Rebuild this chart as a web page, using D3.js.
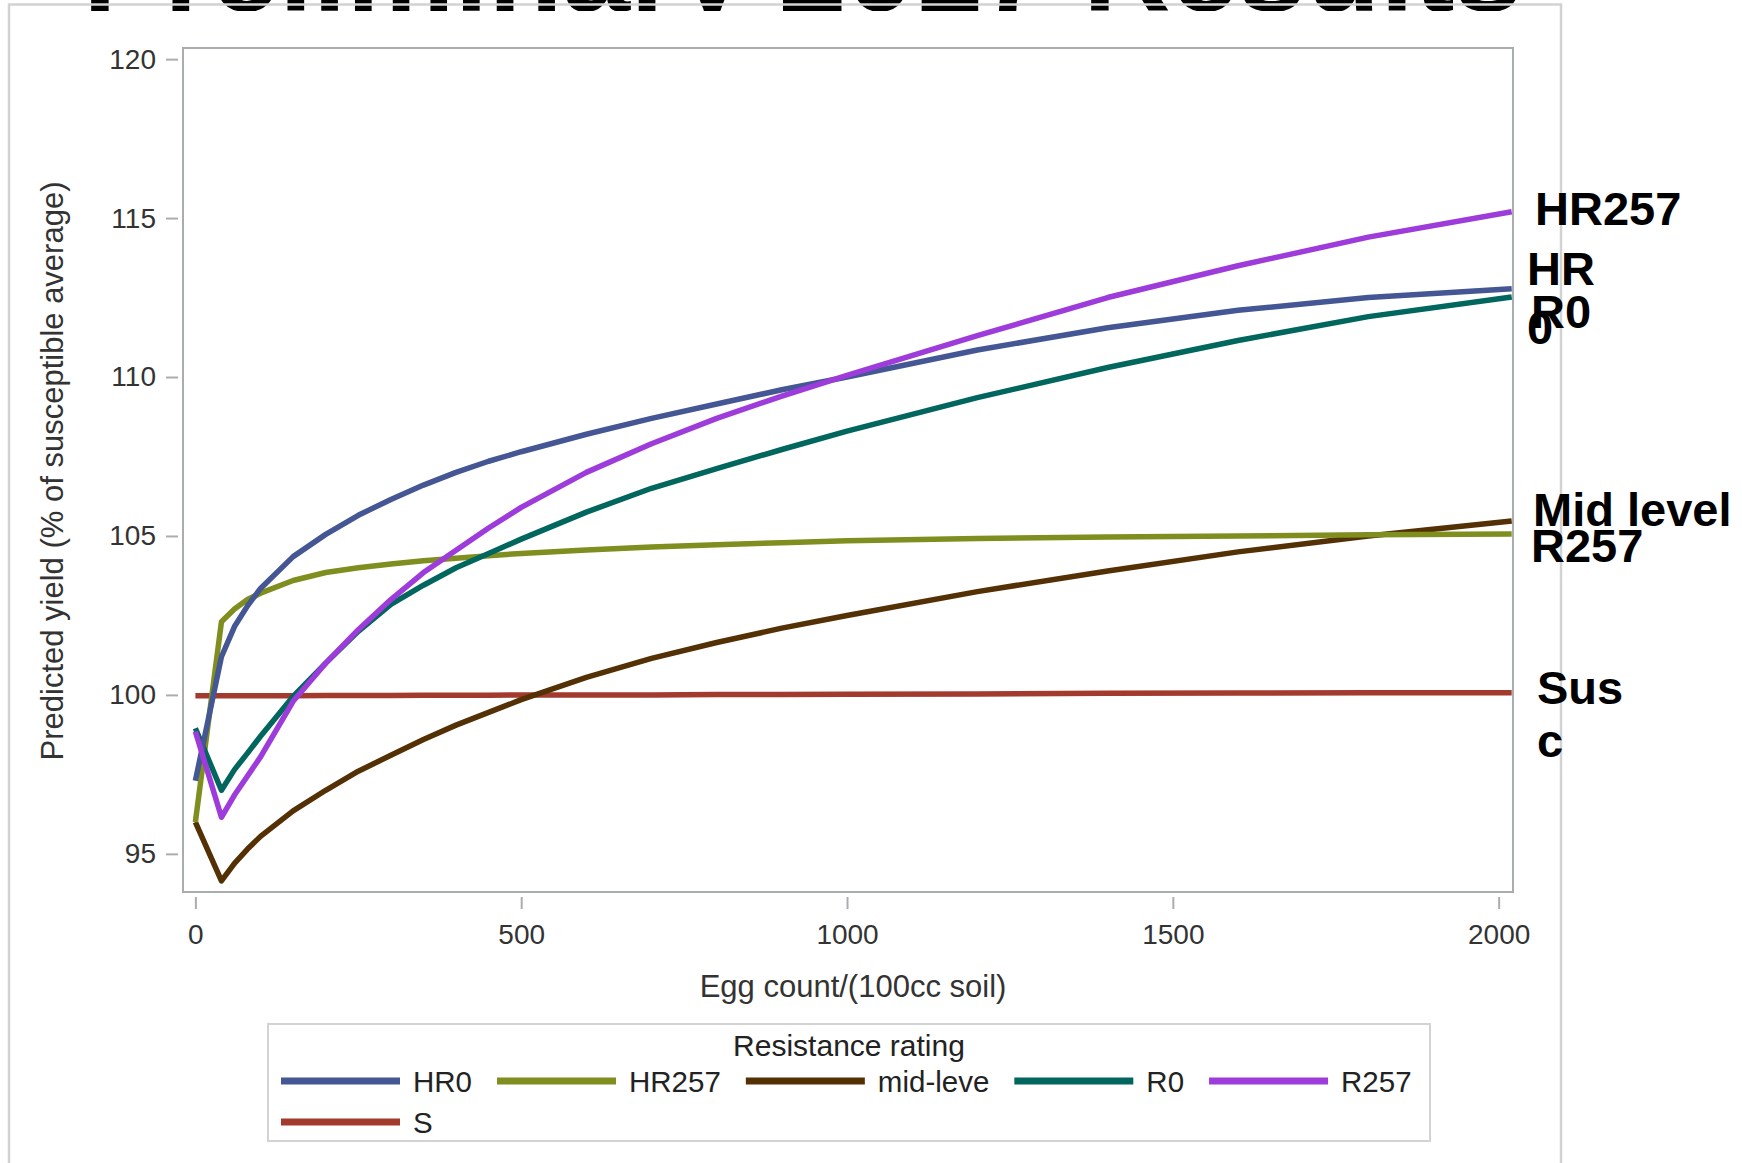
<!DOCTYPE html>
<html><head><meta charset="utf-8">
<script src="https://cdn.jsdelivr.net/npm/d3@7"></script>
<style>
body{margin:0;background:#fff;overflow:hidden}
svg{display:block}
text{font-family:"Liberation Sans",Arial,Helvetica,sans-serif}
</style>
</head><body>
<svg id="c" width="1742" height="1163"></svg>
<script>
// ---------- data ----------
const eggCounts = [0,40,60,80,100,150,200,250,300,350,400,450,500,600,700,800,900,1000,1200,1400,1600,1800,2020];
const hr0      = [97.3,101.2,102.15,102.8,103.35,104.35,105.05,105.65,106.15,106.6,107.0,107.35,107.65,108.2,108.7,109.15,109.6,110.0,110.85,111.55,112.1,112.5,112.78];
const hr257    = [96.0,102.3,102.7,103.0,103.2,103.6,103.85,104.0,104.12,104.22,104.3,104.38,104.45,104.56,104.65,104.72,104.79,104.85,104.92,104.97,105.0,105.04,105.06];
const midLevel = [96.0,94.15,94.7,95.15,95.55,96.35,97.0,97.6,98.1,98.6,99.05,99.45,99.85,100.55,101.15,101.65,102.1,102.5,103.25,103.9,104.5,105.0,105.47];
const r0       = [98.95,97.0,97.65,98.17,98.7,99.95,101.0,102.0,102.85,103.45,104.0,104.45,104.9,105.75,106.5,107.12,107.72,108.3,109.35,110.3,111.15,111.9,112.52];
const r257     = [98.85,96.15,96.85,97.45,98.05,99.8,101.0,102.05,103.0,103.85,104.55,105.25,105.9,107.0,107.9,108.7,109.4,110.05,111.3,112.5,113.5,114.4,115.2];
const sus      = [99.97,99.97,99.97,99.97,99.97,99.97,99.98,99.98,99.98,99.99,99.99,99.99,100.0,100.0,100.0,100.01,100.01,100.02,100.03,100.05,100.06,100.07,100.07];

const seriesNames  = ["HR0","HR257","mid-leve","R0","R257","S"];
const seriesColors = ["#445694","#7F8E1F","#543005","#01665E","#9D3CDB","#A23A2E"];
const seriesValues = [hr0, hr257, midLevel, r0, r257, sus];

const xTicks = [0,500,1000,1500,2000];
const yTicks = [95,100,105,110,115,120];
const xTitle = "Egg count/(100cc soil)";
const yTitle = "Predicted yield (% of susceptible average)";
const legendTitle = "Resistance rating";
const pageTitle = "Preliminary 2017 Results";
const endLabels = ["HR257","HR","R0","0","Mid level","R257","Sus","c"];

// ---------- layout ----------
const svg = d3.select("#c");
const L = 183, R = 1513, T = 48, B = 892;
const x = d3.scaleLinear().domain([-19, 2022]).range([L, R]);
const y = d3.scaleLinear().domain([93.8, 120.35]).range([B, T]);

// cut-off slide title at the very top
svg.append("clipPath").attr("id","topclip").append("rect")
  .attr("x",0).attr("y",0).attr("width",1742).attr("height",11);
svg.append("text").attr("clip-path","url(#topclip)")
  .attr("x",83).attr("y",11)
  .attr("textLength",1439).attr("lengthAdjust","spacingAndGlyphs")
  .attr("font-size",120).attr("font-weight","bold").attr("fill","#000")
  .text(pageTitle);

// outer panel border
svg.append("rect").attr("x",9).attr("y",4.5).attr("width",1552).attr("height",1300)
  .attr("fill","none").attr("stroke","#d2d2d2").attr("stroke-width",2.5);

// plot frame
svg.append("rect").attr("x",L).attr("y",T).attr("width",R-L).attr("height",B-T)
  .attr("fill","#fff").attr("stroke","#a9adb1").attr("stroke-width",2);

// axes
const yAxis = svg.append("g").attr("transform","translate(178,0)")
  .call(d3.axisLeft(y).tickValues(yTicks).tickSize(12).tickPadding(10).tickFormat(d3.format("d")));
const xAxis = svg.append("g").attr("transform",`translate(0,${B+5})`)
  .call(d3.axisBottom(x).tickValues(xTicks).tickSize(12).tickPadding(15).tickFormat(d3.format("d")));
[yAxis,xAxis].forEach(g=>{
  g.select(".domain").remove();
  g.selectAll(".tick line").attr("stroke","#a9adb1").attr("stroke-width",2);
  g.selectAll(".tick text").attr("font-size",28).attr("fill","#333")
    .attr("font-family","'Liberation Sans',Arial,sans-serif");
});

// axis titles
svg.append("text").attr("x",(L+R)/2+5).attr("y",997).attr("text-anchor","middle")
  .attr("font-size",31).attr("fill","#333").text(xTitle);
svg.append("text").attr("transform","translate(63,471) rotate(-90)").attr("text-anchor","middle")
  .attr("font-size",31).attr("fill","#333").text(yTitle);

// lines
svg.append("clipPath").attr("id","plotclip").append("rect")
  .attr("x",L+1).attr("y",T+1).attr("width",R-L-2).attr("height",B-T-2);
const line = d3.line().x((d,i)=>x(eggCounts[i])).y(d=>y(d));
const gl = svg.append("g").attr("clip-path","url(#plotclip)");
const drawOrder = [5,2,1,3,0,4];
drawOrder.forEach(k=>{
  gl.append("path").datum(seriesValues[k]).attr("d", line)
    .attr("fill","none").attr("stroke",seriesColors[k]).attr("stroke-width",5.5)
    .attr("stroke-linejoin","round");
});

// end annotations
const annPos = [[1535,225],[1527,285],[1531,328],[1527,344],[1533,526],[1531,562],[1537,704],[1537,757]];
endLabels.forEach((t,i)=>{
  svg.append("text").attr("x",annPos[i][0]).attr("y",annPos[i][1])
    .attr("font-size",47).attr("font-weight","bold").attr("fill","#000").text(t);
});

// legend
svg.append("rect").attr("x",268).attr("y",1024).attr("width",1162).attr("height",117)
  .attr("fill","#fff").attr("stroke","#d3d3d3").attr("stroke-width",2);
svg.append("text").attr("x",849).attr("y",1056).attr("text-anchor","middle")
  .attr("font-size",30).attr("fill","#222").text(legendTitle);
let lx = 281, row = 0;
seriesNames.forEach((n,i)=>{
  if(i===5){ row = 1; lx = 281; }
  const ly = row===0 ? 1081 : 1122;
  svg.append("line").attr("x1",lx).attr("x2",lx+119).attr("y1",ly).attr("y2",ly)
    .attr("stroke",seriesColors[i]).attr("stroke-width",7);
  const t = svg.append("text").attr("x",lx+132).attr("y",ly+10.5)
    .attr("font-size",29.5).attr("fill","#222").text(n);
  lx = lx + 132 + t.node().getComputedTextLength() + 25;
});
</script>
</body></html>
